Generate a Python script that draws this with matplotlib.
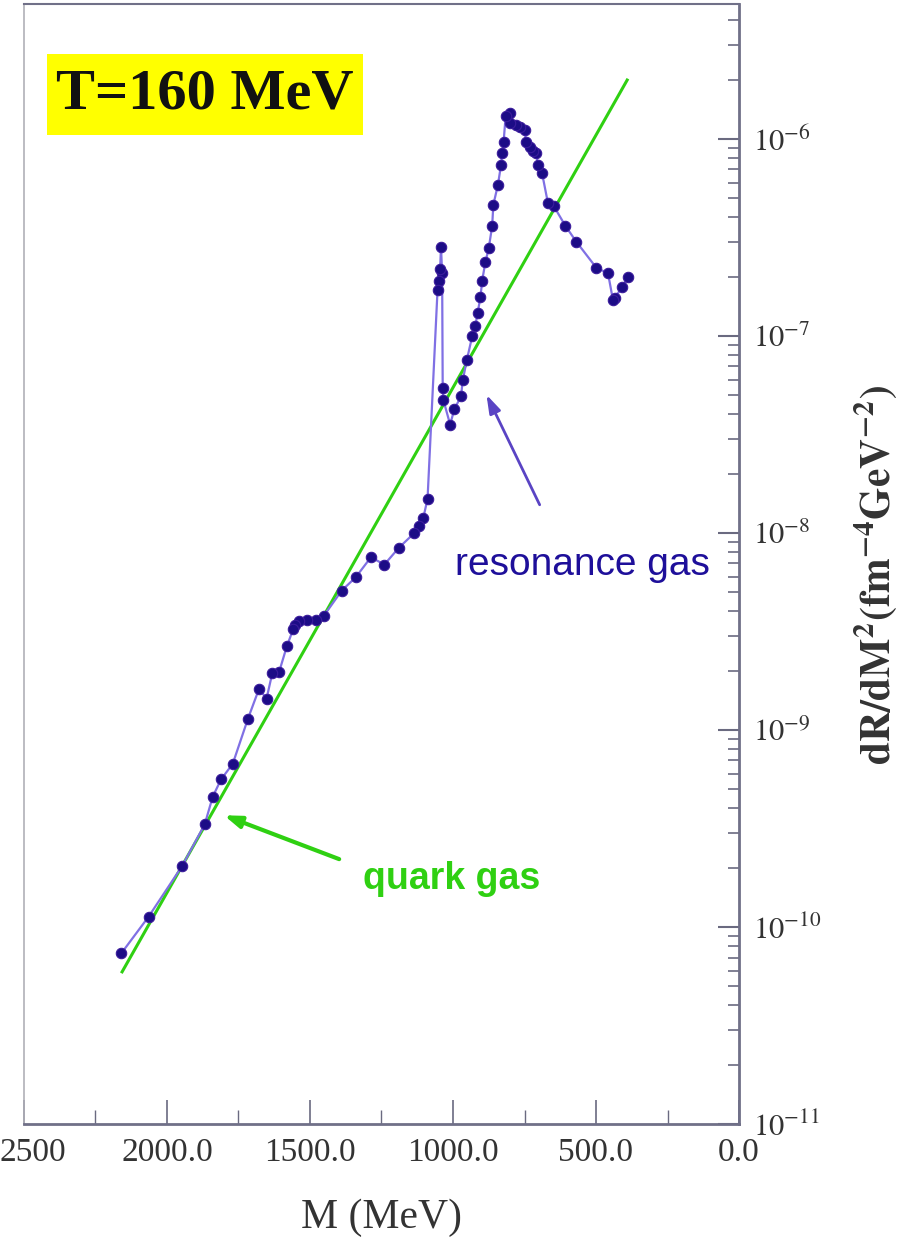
import numpy as np
import matplotlib
matplotlib.use("Agg")
import matplotlib.pyplot as plt
from matplotlib.patches import Rectangle
from matplotlib.ticker import FixedLocator, LogLocator, NullFormatter
from matplotlib.transforms import ScaledTranslation

plt.rcParams["mathtext.fontset"] = "stix"
plt.rcParams["font.family"] = ["Liberation Serif", "DejaVu Serif"]

# Dilepton rate of the hadronic resonance gas at T = 160 MeV
mass_res = [388, 408, 435, 441, 458, 499, 569, 607, 648, 668, 689, 703, 709,
            721, 732, 744, 750, 767, 779, 800, 802, 816, 823, 828, 832, 843,
            859, 863, 875, 887, 898, 904, 914, 922, 933, 952, 966, 972, 995,
            1010, 1034, 1036, 1038, 1042, 1045, 1050, 1054, 1089, 1104, 1120,
            1135, 1190, 1240, 1287, 1340, 1389, 1451, 1480, 1509, 1538, 1552,
            1559, 1581, 1608, 1632, 1652, 1678, 1717, 1770, 1811, 1840, 1868,
            1947, 2064, 2160]
rate_res = [2.00e-7, 1.77e-7, 1.56e-7, 1.53e-7, 2.08e-7, 2.22e-7, 3.01e-7,
            3.62e-7, 4.57e-7, 4.72e-7, 6.75e-7, 7.38e-7, 8.52e-7, 8.72e-7,
            9.14e-7, 9.69e-7, 1.11e-6, 1.15e-6, 1.18e-6, 1.20e-6, 1.36e-6,
            1.30e-6, 9.69e-7, 8.52e-7, 7.38e-7, 5.84e-7, 4.63e-7, 3.62e-7,
            2.79e-7, 2.36e-7, 1.91e-7, 1.57e-7, 1.31e-7, 1.12e-7, 9.94e-8,
            7.51e-8, 5.95e-8, 4.93e-8, 4.26e-8, 3.55e-8, 4.75e-8, 5.44e-8,
            2.08e-7, 2.84e-7, 2.18e-7, 1.89e-7, 1.72e-7, 1.49e-8, 1.19e-8,
            1.08e-8, 1.00e-8, 8.39e-9, 6.91e-9, 7.53e-9, 5.96e-9, 5.10e-9,
            3.81e-9, 3.62e-9, 3.62e-9, 3.56e-9, 3.43e-9, 3.24e-9, 2.66e-9,
            1.97e-9, 1.94e-9, 1.44e-9, 1.62e-9, 1.14e-9, 6.74e-10, 5.61e-10,
            4.59e-10, 3.32e-10, 2.04e-10, 1.13e-10, 7.34e-11]

# Quark-gluon gas rate (straight line on the log scale)
mass_qgp = [391, 2157]
rate_qgp = [1.99e-6, 5.92e-11]

x_ticks = [0, 500, 1000, 1500, 2000, 2500]
x_tick_labels = ["0.0", "500.0", "1000.0", "1500.0", "2000.0", "2500"]
y_ticks = [1e-11, 1e-10, 1e-9, 1e-8, 1e-7, 1e-6]
y_tick_labels = [r"$10^{-11}$", r"$10^{-10}$", r"$10^{-9}$", r"$10^{-8}$",
                 r"$10^{-7}$", r"$10^{-6}$"]

fig = plt.figure(figsize=(9.06, 12.47), dpi=100)
ax = fig.add_axes([24 / 906, 1 - 1124 / 1247, 715 / 906, 1120 / 1247])

ax.set_yscale("log")
ax.set_xlim(2500, 0)
ax.set_ylim(1e-11, 4.84e-6)

ax.plot(mass_qgp, rate_qgp, color="#2fd012", lw=2.2, zorder=2)
ax.plot(mass_res, rate_res, color="#8070e4", lw=1.6, marker="o", ms=7.5,
        mfc="#1c0c86", mec="#3b1c9c", mew=0.8, zorder=3)

# axes styling
ax.yaxis.tick_right()
ax.yaxis.set_label_position("right")
ax.set_xticks(x_ticks)
ax.set_xticklabels(x_tick_labels)
ax.xaxis.set_minor_locator(FixedLocator([250, 750, 1250, 1750, 2250]))
ax.set_yticks(y_ticks)
ax.set_yticklabels(y_tick_labels)
ax.yaxis.set_minor_locator(LogLocator(base=10, subs=np.arange(2, 10), numticks=50))
ax.yaxis.set_minor_formatter(NullFormatter())

ax.tick_params(axis="x", which="major", direction="in", length=17, width=1.2,
               color="#6a6a80", labelsize=24, pad=10, labelcolor="#333333")
ax.tick_params(axis="x", which="minor", direction="in", length=10, width=1.0,
               color="#6a6a80")
ax.tick_params(axis="y", which="major", direction="in", length=15, width=1.5,
               color="#6a6a80", labelsize=22, pad=10, labelcolor="#333333",
               left=False, right=True)
ax.tick_params(axis="y", which="minor", direction="in", length=8, width=1.2,
               color="#6a6a80", left=False, right=True)

# keep the leftmost tick label inside the figure
edge_label = ax.get_xticklabels()[-1]
edge_label.set_transform(edge_label.get_transform()
                         + ScaledTranslation(6 / 72, 0, fig.dpi_scale_trans))

for side, lw in (("right", 2.0), ("bottom", 2.0), ("left", 1.2), ("top", 1.5)):
    ax.spines[side].set_linewidth(lw)
    ax.spines[side].set_color("#707088" if side != "left" else "#b0b0b8")

ax.set_xlabel("M (MeV)", fontsize=30, color="#333333", labelpad=22)
ax.set_ylabel(r"$\mathbf{dR/dM^2(fm^{-4}GeV^{-2})}$", fontsize=30,
              color="#333333", rotation=90)
ax.yaxis.label.set_verticalalignment("center")
ax.yaxis.label.set_horizontalalignment("center")
ax.yaxis.set_label_coords(1.191, 0.49)

# temperature box
ax.add_patch(Rectangle((0.032, 0.883), 0.442, 0.072, transform=ax.transAxes,
                       facecolor="#ffff00", edgecolor="none", zorder=4))
ax.text(0.253, 0.919, "T=160 MeV", transform=ax.transAxes, ha="center",
        va="center", fontsize=42, fontweight="bold", color="#111111", zorder=5)

# curve labels with arrows
ax.annotate("", xy=(883, 5.03e-8), xytext=(697, 1.39e-8),
            arrowprops=dict(arrowstyle="-|>,head_length=1.1,head_width=0.35",
                            color="#5a44c4", lw=2.0, shrinkA=0, shrinkB=0))
ax.text(549, 6.15e-9, "resonance gas", ha="center", va="baseline",
        fontsize=28, color="#1e0f9a", family=["Liberation Sans", "DejaVu Sans"])

ax.annotate("", xy=(1801, 3.69e-10), xytext=(1398, 2.21e-10),
            arrowprops=dict(arrowstyle="-|>,head_length=1.0,head_width=0.35",
                            color="#2fd012", lw=3.0, shrinkA=0, shrinkB=0))
ax.text(1006, 1.556e-10, "quark gas", ha="center", va="baseline",
        fontsize=27, fontweight="bold", color="#2fd012",
        family=["Liberation Sans", "DejaVu Sans"])

fig.savefig("out.png", dpi=100)
